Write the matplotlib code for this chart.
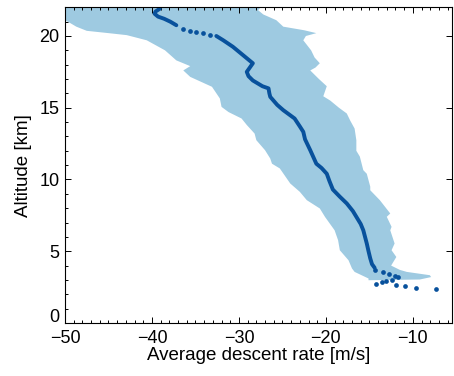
import numpy as np
import matplotlib
matplotlib.use("Agg")
import matplotlib.pyplot as plt
from matplotlib.ticker import MultipleLocator, FuncFormatter

plt.rcParams['font.family'] = ['Liberation Sans', 'DejaVu Sans']

# --- mean descent profile (continuous part) ---
line_top_rate = [-39.1, -39.6, -39.7, -39.3, -38.6, -37.9, -37.2]
line_top_alt = [21.9, 21.7, 21.55, 21.35, 21.2, 21.0, 20.75]

line_rate = [-32.6, -31.8, -30.7, -29.6, -28.4, -29.1, -28.9, -28.4, -27.3, -26.6,
             -26.5, -26.4, -25.6, -24.9, -23.6, -23.0, -22.6, -22.4, -21.8, -21.1,
             -20.5, -19.9, -19.6, -19.2, -18.4, -17.6, -16.9, -16.5, -16.0, -15.7,
             -15.5, -15.3, -15.1, -14.9, -14.7, -14.4]
line_alt = [20.0, 19.7, 19.25, 18.7, 18.1, 17.5, 17.2, 16.9, 16.5, 16.35,
            16.0, 15.76, 15.2, 14.83, 14.25, 13.7, 13.32, 12.8, 12.04, 11.1,
            10.8, 10.4, 9.9, 9.3, 8.8, 8.33, 7.8, 7.4, 6.9, 6.46,
            6.0, 5.54, 5.0, 4.5, 4.1, 3.85]

# --- sparse samples (top and bottom) ---
dot_rate = [-36.4, -35.6, -34.9, -34.1, -33.3,
            -14.4, -13.4, -12.7, -12.1, -11.7, -12.45, -13.1, -13.6, -14.2,
            -11.9, -10.9, -9.66, -7.3]
dot_alt = [20.5, 20.36, 20.25, 20.18, 20.1,
           3.68, 3.56, 3.44, 3.26, 3.17, 3.03, 2.93, 2.86, 2.75,
           2.68, 2.56, 2.47, 2.37]

# --- spread band edges ---
lo_alt = [22.0, 21.1, 20.9, 20.65, 20.36, 20.2, 20.06, 19.7, 19.0, 18.3, 17.9, 17.6,
          17.15, 16.46, 15.65, 15.06, 14.7, 14.25, 13.8, 13.2, 12.74, 12.04, 11.46,
          11.1, 10.77, 9.72, 9.14, 8.56, 7.98, 7.39, 6.46, 5.77, 5.07, 4.37, 3.8,
          3.56, 3.33, 3.1, 2.98]
lo_rate = [-50.0, -50.0, -49.4, -48.7, -47.5, -45.0, -42.9, -40.6, -38.5, -37.2, -35.6,
           -36.4, -35.6, -33.1, -32.2, -32.0, -31.2, -29.7, -29.1, -28.2, -28.0, -27.0,
           -26.4, -26.2, -25.3, -24.1, -23.0, -22.2, -20.7, -20.1, -19.0, -18.6, -18.4,
           -17.4, -17.0, -16.7, -15.9, -15.1, -15.1]

hi_alt = [22.0, 21.8, 21.5, 21.1, 20.65, 20.4, 20.2, 20.0, 19.7, 19.0, 18.5, 18.1,
          17.8, 17.6, 17.0, 16.5, 15.8, 15.5, 15.0, 14.6, 14.1, 13.55, 12.74, 12.0,
          11.6, 10.65, 10.4, 9.5, 9.25, 8.56, 7.63, 7.4, 6.7, 6.46, 5.54, 5.07, 4.6,
          4.0, 3.7, 3.56, 3.33, 3.2, 3.03, 2.98]
hi_rate = [-27.5, -27.8, -27.2, -25.7, -24.9, -22.5, -21.1, -22.3, -22.6, -21.7,
           -21.3, -20.7, -21.2, -21.8, -20.8, -19.9, -20.3, -19.5, -18.5, -17.6,
           -17.2, -16.7, -16.5, -16.5, -16.1, -15.7, -15.3, -14.9, -14.9, -13.8,
           -12.6, -13.0, -12.45, -12.6, -12.1, -12.45, -11.9, -12.5, -11.5, -10.7,
           -8.05, -7.9, -9.2, -15.1]

band_color = '#9ecae1'
line_color = '#08519c'

fig = plt.figure(figsize=(4.54, 3.76), dpi=100)
ax = fig.add_axes([0.1432, 0.141, 0.8524, 0.8396])

ax.fill(lo_rate + hi_rate[::-1], lo_alt + hi_alt[::-1], color=band_color, lw=0, zorder=1)
ax.plot(line_top_rate, line_top_alt, color=line_color, lw=2.8, solid_capstyle='round', zorder=2)
ax.plot(line_rate, line_alt, color=line_color, lw=2.8, solid_capstyle='round', zorder=2)
ax.plot(dot_rate, dot_alt, 'o', color=line_color, ms=3.4, mew=0, zorder=3)

ax.set_xlim(-50, -5.5)
ax.set_ylim(0, 22)
ax.xaxis.set_major_locator(MultipleLocator(10))
ax.xaxis.set_minor_locator(MultipleLocator(1))
ax.yaxis.set_major_locator(MultipleLocator(5))
ax.yaxis.set_minor_locator(MultipleLocator(1))
# the "0" label is drawn separately, a bit higher, so it clears "-50"
ax.yaxis.set_major_formatter(FuncFormatter(lambda v, p: '' if v == 0 else f'{v:g}'))
ax.tick_params(which='both', direction='in', top=True, right=True, width=0.7,
               labelsize=13, colors='black')
ax.tick_params(which='major', length=4.3)
ax.tick_params(axis='y', which='major', pad=4)
ax.tick_params(axis='x', which='major', pad=5)
ax.tick_params(which='minor', length=2.2, right=False)
for s in ax.spines.values():
    s.set_linewidth(0.8)

ax.annotate('0', xy=(0, 0), xycoords=('axes fraction', 'data'),
            xytext=(-4, 4), textcoords='offset points',
            ha='right', va='center', fontsize=13)

ax.set_xlabel('Average descent rate [m/s]', fontsize=13.5, labelpad=0)
ax.set_ylabel('Altitude [km]', fontsize=13.5, labelpad=5)

fig.savefig('out.png', dpi=100)
